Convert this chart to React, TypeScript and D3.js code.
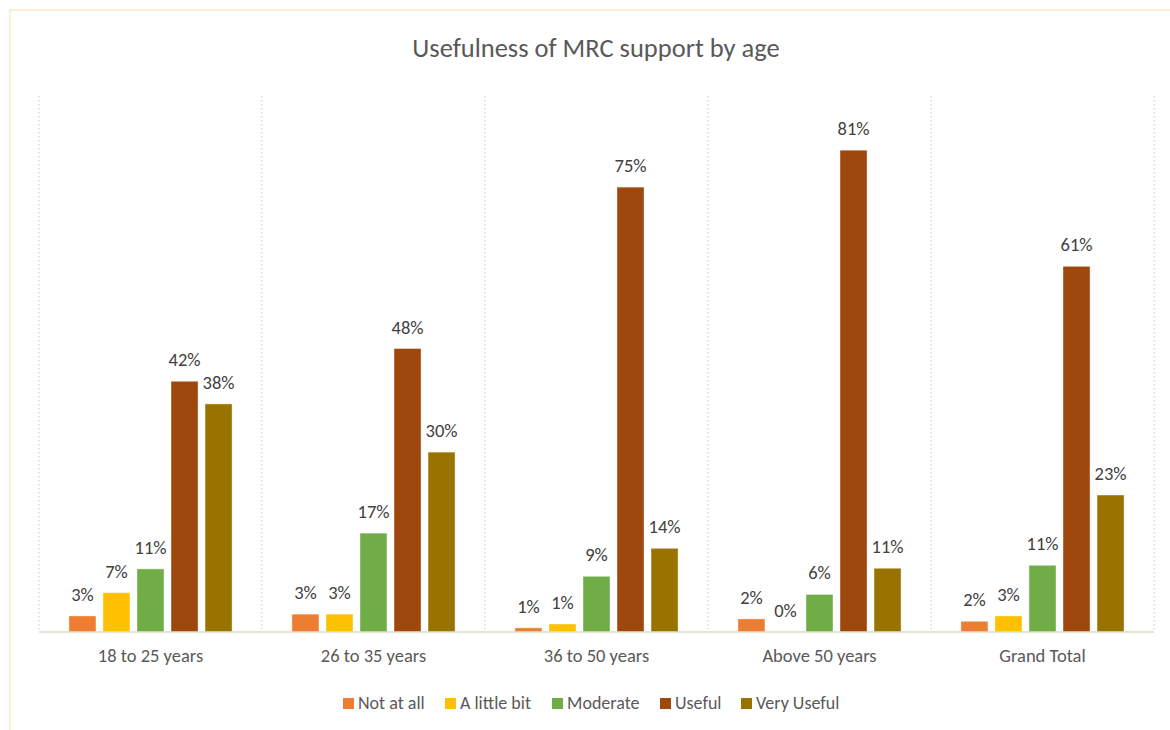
import React from "react";
import * as d3 from "d3";

const categories = ["18 to 25 years", "26 to 35 years", "36 to 50 years", "Above 50 years", "Grand Total"];
const seriesNames = ["Not at all", "A little bit", "Moderate", "Useful", "Very Useful"];
const seriesColors = ["#ED7D31", "#FFC000", "#70AD47", "#9E480E", "#997300"];
const notAtAll = [0.027, 0.03, 0.007, 0.022, 0.018];
const aLittleBit = [0.066, 0.03, 0.0135, 0, 0.027];
const moderate = [0.106, 0.166, 0.0935, 0.063, 0.112];
const useful = [0.421, 0.476, 0.747, 0.809, 0.614];
const veryUseful = [0.383, 0.302, 0.1405, 0.107, 0.23];
const seriesValues = [notAtAll, aLittleBit, moderate, useful, veryUseful];
const yMax = 0.9;

const W = 1170;
const H = 730;
const plot = { left: 39, right: 1154, top: 96, bottom: 632 };
const FONT = "Carlito, Calibri, Lato, 'Open Sans', sans-serif";

export default function App() {
  const x0 = d3.scaleBand<string>().domain(categories).range([plot.left, plot.right]).padding(0);
  const x1 = d3
    .scaleBand<string>()
    .domain(seriesNames)
    .range([0, x0.bandwidth()])
    .paddingInner(0.206)
    .paddingOuter(0.88);
  const y = d3.scaleLinear().domain([0, yMax]).range([plot.bottom, plot.top]);
  const fmt = d3.format(".0%");

  const gridXs = categories.map((c) => x0(c) as number).concat([plot.right]);

  const legendX = [343, 445, 552, 660, 741];

  return (
    <svg
      width={W}
      height={H}
      style={{ position: "absolute", left: 0, top: 0, background: "#fff" }}
      fontFamily={FONT}
    >
      <rect x={10} y={10} width={W + 20} height={H + 20} fill="#fff" stroke="#FFE9C2" strokeWidth={1.5} />
      <text x={596} y={57} textAnchor="middle" fontSize={26.5} fill="#595959">
        Usefulness of MRC support by age
      </text>
      {gridXs.map((gx, i) => (
        <line
          key={"g" + i}
          x1={gx}
          x2={gx}
          y1={plot.top}
          y2={plot.bottom}
          stroke="#D9DEC3"
          strokeWidth={1.5}
          strokeDasharray="1.5,2.5"
        />
      ))}
      {categories.map((c, ci) => (
        <g key={c} transform={`translate(${x0(c)},0)`}>
          {seriesNames.map((s, si) => {
            const v = seriesValues[si][ci];
            const bx = x1(s) as number;
            const top = y(v);
            return (
              <g key={s}>
                {v > 0 && (
                  <rect
                    x={bx}
                    y={top}
                    width={x1.bandwidth()}
                    height={plot.bottom - top}
                    fill={seriesColors[si]}
                    stroke="#ffffff"
                    strokeOpacity={0.4}
                    strokeWidth={1}
                  />
                )}
                <text
                  x={bx + x1.bandwidth() / 2}
                  y={top - 15}
                  textAnchor="middle"
                  fontSize={18.5}
                  fill="#404040"
                >
                  {fmt(v)}
                </text>
              </g>
            );
          })}
          <text
            x={x0.bandwidth() / 2}
            y={662}
            textAnchor="middle"
            fontSize={18.5}
            fill="#595959"
          >
            {c}
          </text>
        </g>
      ))}
      <line x1={plot.left} x2={plot.right} y1={plot.bottom} y2={plot.bottom} stroke="#D9DCC6" strokeWidth={1.5} />
      {seriesNames.map((s, i) => (
        <g key={"l" + s} transform={`translate(${legendX[i]},0)`}>
          <rect x={0} y={698} width={11} height={11} fill={seriesColors[i]} />
          <text x={15} y={709} fontSize={18} fill="#595959">
            {s}
          </text>
        </g>
      ))}
    </svg>
  );
}
